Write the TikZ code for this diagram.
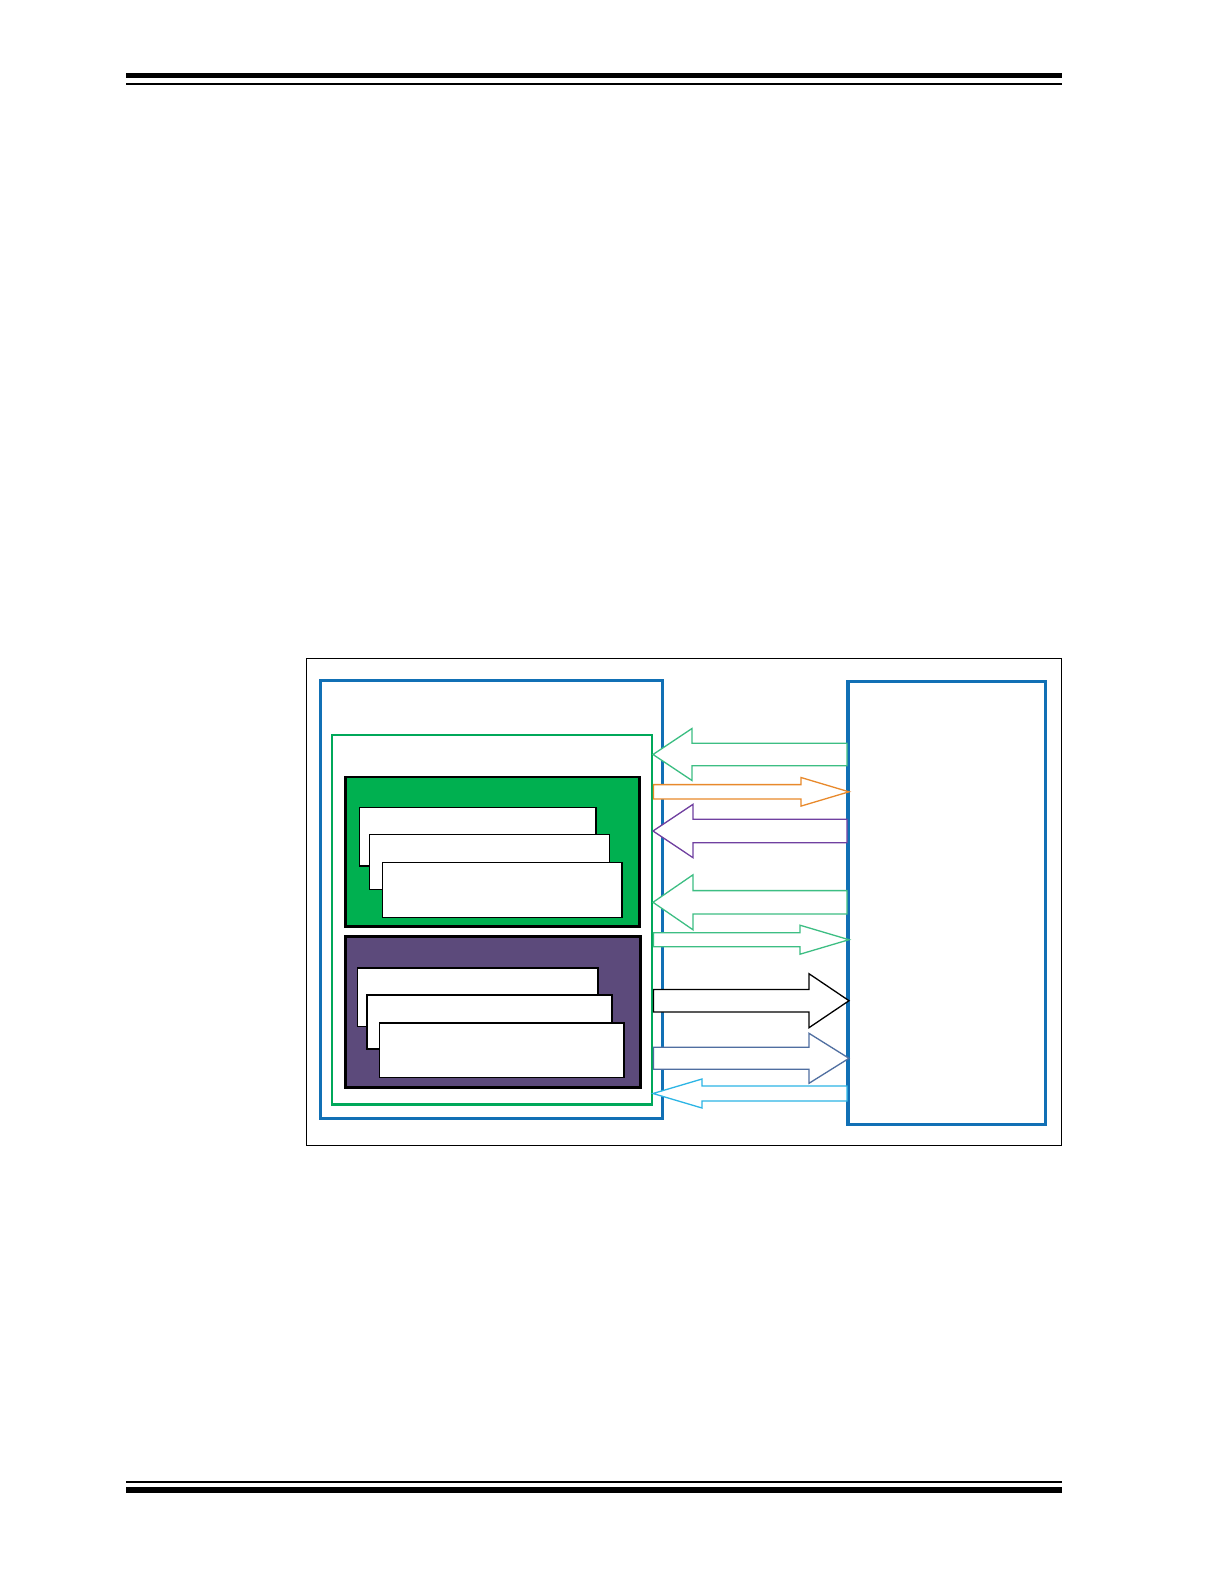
\documentclass[tikz,border=0pt]{standalone}
\definecolor{chipblue}{HTML}{1170B5}
\definecolor{linegreen}{HTML}{00A85A}
\definecolor{boxgreen}{HTML}{00B050}
\definecolor{boxpurple}{HTML}{5C4A7B}
\definecolor{arrgreen}{HTML}{3DBE83}
\definecolor{arrorange}{HTML}{E8892B}
\definecolor{arrpurple}{HTML}{7040A0}
\definecolor{arrslate}{HTML}{4F6EA0}
\definecolor{arrcyan}{HTML}{2CB5E5}
\tikzset{
  blockarrow/.style={fill=white, line width=0.65pt, line join=miter},
  memcard/.style={fill=white, draw=black, line width=0.8pt}
}
\begin{document}
\begin{tikzpicture}[x=0.5pt,y=-0.5pt]
			\useasboundingbox (0,0) rectangle (1224,1584);
			\fill[white] (0,0) rectangle (1224,1584);

			% page rules
			\fill (126,73.3) rectangle (1062,78.3);
			\fill (126,83) rectangle (1062,85);
			\fill (126,1480.7) rectangle (1062,1482.7);
			\fill (126,1487) rectangle (1062,1492.7);

			% frame
			\draw[line width=0.7pt] (306.3,658.3) rectangle (1061.7,1145.3);

			% left side
			\draw[chipblue, line width=1.5pt] (320,680) rectangle (662,1118.5);
			\draw[linegreen, line width=1.1pt] (331.7,735) rectangle (652.3,1104.5);

			\filldraw[fill=boxgreen, draw=black, line width=1.3pt] (345.7,777) rectangle (639.7,926.7);
			\draw[memcard] (359.3,807.3) rectangle (595.7,866);
			\draw[memcard] (369.3,834.3) rectangle (609.3,889.3);
			\draw[memcard] (382.3,862.3) rectangle (622,917.3);

			\filldraw[fill=boxpurple, draw=black, line width=1.3pt] (345.7,936.7) rectangle (640.3,1087.3);
			\draw[memcard] (357.3,967.7) rectangle (597.7,1026.3);
			\draw[memcard, line width=1.1pt] (366.7,995) rectangle (611.7,1049.3);
			\draw[memcard] (379.3,1022.7) rectangle (623.7,1077.3);

			% right side
			\draw[chipblue, line width=1.6pt] (848,681.7) rectangle (1045.5,1124.5);

			% arrows to the left
			\foreach \y/\s/\h/\l/\c in {754.5/11.2/26/39/arrgreen, 831/11.8/26.7/40/arrpurple,
			                           902.3/11.7/27.5/40/arrgreen, 1093.5/7.5/14.5/49/arrcyan}
				\draw[blockarrow, draw=\c] (653,\y) -- ({653+\l},{\y-\h}) -- ({653+\l},{\y-\s}) -- (847,{\y-\s})
					-- (847,{\y+\s}) -- ({653+\l},{\y+\s}) -- ({653+\l},{\y+\h}) -- cycle;

			% arrows to the right
			\foreach \y/\s/\h/\l/\c in {791.8/7.2/14.3/48/arrorange, 939.7/7/14.5/49/arrgreen,
			                           1000.7/11.3/27/40/black, 1058.3/11/25/40/arrslate}
				\draw[blockarrow, draw=\c] (849,\y) -- ({849-\l},{\y-\h}) -- ({849-\l},{\y-\s}) -- (653.5,{\y-\s})
					-- (653.5,{\y+\s}) -- ({849-\l},{\y+\s}) -- ({849-\l},{\y+\h}) -- cycle;
	\end{tikzpicture}
\end{document}
